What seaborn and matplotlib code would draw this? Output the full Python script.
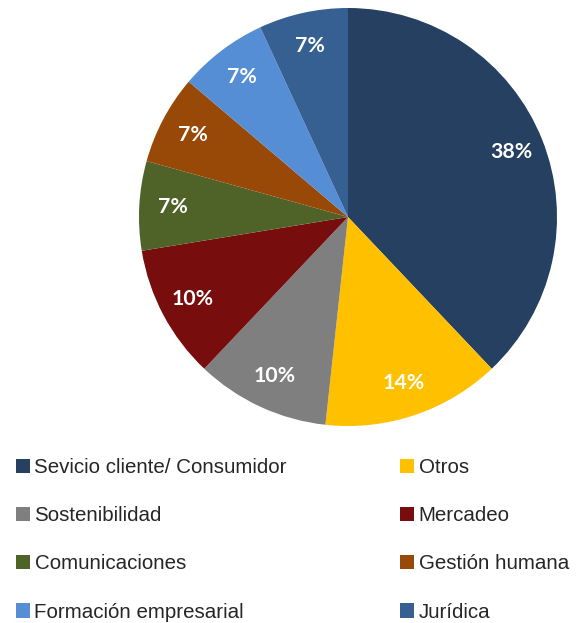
import matplotlib
matplotlib.use("Agg")
import matplotlib.pyplot as plt
from matplotlib.patches import Patch
import seaborn as sns

categories = ["Sevicio cliente/ Consumidor", "Otros", "Sostenibilidad", "Mercadeo",
              "Comunicaciones", "Gestión humana", "Formación empresarial", "Jurídica"]
counts = [11, 4, 3, 3, 2, 2, 2, 2]
colors = ["#264062", "#FFC000", "#7F7F7F", "#770D0D",
          "#4F6228", "#984807", "#558ED5", "#366092"]

sns.set_style("white")
plt.rcParams["font.family"] = ["Liberation Sans", "DejaVu Sans"]

W, H = 587, 623
fig = plt.figure(figsize=(W / 100, H / 100), dpi=100)
cx, cy, r = 348, 217, 209
ax = fig.add_axes([(cx - r) / W, (H - cy - r) / H, 2 * r / W, 2 * r / H])

wedges, texts, autotexts = ax.pie(
    counts, colors=sns.color_palette(colors), startangle=90, counterclock=False,
    autopct=lambda p: f"{p:.0f}%", pctdistance=0.84, radius=1,
    wedgeprops=dict(linewidth=0),
    textprops=dict(color="white", fontweight="bold", fontsize=15.3, family=["Lato", "DejaVu Sans"]))
ax.set_xlim(-1, 1)
ax.set_ylim(-1, 1)
ax.set_aspect("auto")
ax.axis("off")

order = [0, 2, 4, 6, 1, 3, 5, 7]
handles = [Patch(facecolor=colors[i], edgecolor="none") for i in order]
labels = [categories[i] for i in order]
fig.legend(handles, labels, ncol=2, loc="upper left",
           bbox_to_anchor=(16 / W, 1 - 458 / H), frameon=False,
           borderpad=0, borderaxespad=0, fontsize=14.8,
           handlelength=0.7, handleheight=0.7, handletextpad=0.2,
           columnspacing=5.5, labelspacing=1.42)

fig.savefig("out.png", dpi=100)
